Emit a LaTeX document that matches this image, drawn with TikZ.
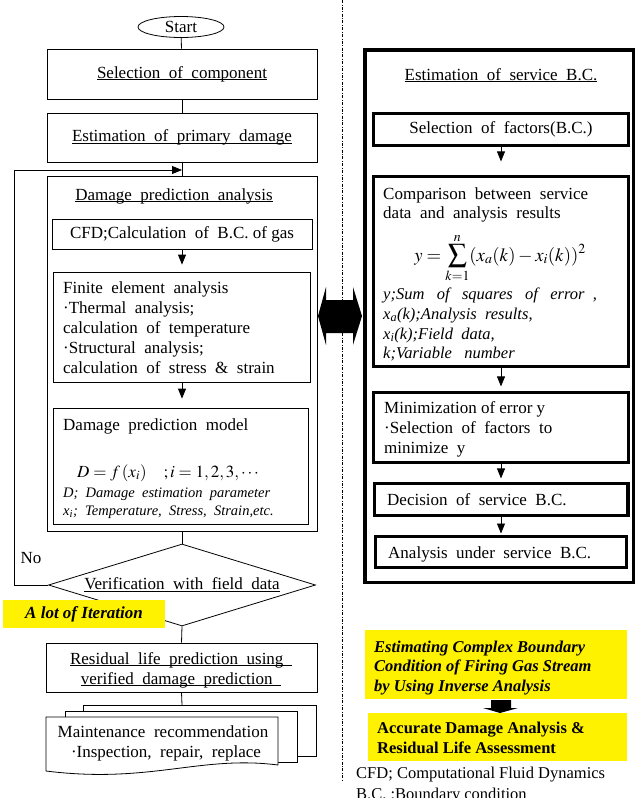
\documentclass[tikz,border=0pt]{standalone}
\usepackage{mathptmx}
\usepackage[no-math]{fontspec}
\setmainfont{Liberation Serif}
\usetikzlibrary{arrows.meta,shapes.geometric}
\newsavebox\ulbx
\newcommand\uln[1]{\sbox\ulbx{#1}\rlap{\rule[-2pt]{\wd\ulbx}{0.8pt}}\usebox\ulbx}
\newcommand\ws{\hspace{0.5em}}
\newcommand\wws{\hspace{0.75em}}
\tikzset{
 fm/.style={font=\fontsize{17}{20}\selectfont},
 bx/.style={draw, line width=0.8pt, inner sep=0pt, fm},
 tb/.style={draw, line width=3.2pt, inner sep=0pt, fm},
 txt/.style={inner sep=0pt, anchor=base west, fm},
 txtc/.style={inner sep=0pt, anchor=base, fm},
 itl/.style={inner sep=0pt, anchor=base west, font=\fontsize{16.5}{20}\selectfont\itshape},
 itls/.style={inner sep=0pt, anchor=base west, font=\fontsize{14.5}{18}\selectfont\itshape},
 yb/.style={inner sep=0pt, anchor=base west, font=\fontsize{16.5}{20}\selectfont\bfseries\itshape},
 ybu/.style={inner sep=0pt, anchor=base west, font=\fontsize{16.5}{20}\selectfont\bfseries},
 conn/.style={line width=0.8pt},
 arr/.style={line width=0.8pt, -{Triangle[length=10pt,width=8pt]}},
 doc/.style={draw, line width=0.8pt, fill=white},
}
\begin{document}
\begin{tikzpicture}[x=1pt,y=-1pt]
\useasboundingbox (0,0) rectangle (636,798);
% separator
\draw[line width=0.6pt, dash pattern=on 3pt off 1.5pt on 0.8pt off 1.5pt] (342,0) -- (342,780);

% ---------- left column ----------
\node[draw, ellipse, line width=0.8pt, minimum width=86, minimum height=21, inner sep=0pt, fm] (start) at (181,27) {Start};
\node[bx, minimum width=270, minimum height=50] (sel) at (182,74) {\uln{Selection\ws of\ws component}};
\node[bx, minimum width=270, minimum height=49] (est) at (182,137.5) {\uln{Estimation\ws of\ws primary\ws damage}};
\node[bx, minimum width=270, minimum height=355] (dpa) at (182,353.5) {};
\node[txtc] (dpat) at (174,200) {\uln{Damage\ws prediction\ws analysis}};
\node[bx, minimum width=260, minimum height=30] (cfd) at (182,234) {CFD;Calculation\ws of\ws B.C. of gas};
\node[bx, minimum width=257, minimum height=110] (fe) at (182,327) {};
\node[txt] (fe1) at (63,293) {Finite\ws element\ws analysis};
\node[txt] (fe2) at (63,313) {·Thermal\ws analysis;};
\node[txt] (fe3) at (63,333) {calculation\ws of\ws temperature};
\node[txt] (fe4) at (63,353) {·Structural\ws analysis;};
\node[txt] (fe5) at (63,373) {calculation\ws of\ws stress\ws \&\ws strain};
\node[bx, minimum width=255, minimum height=116] (dpm) at (181,466) {};
\node[txt] (dpm1) at (63,430) {Damage\ws prediction\ws model};
\node[txt] (dpm2) at (77,477) {$D=f\,(x_i)\quad;i=1,2,3,\cdots$};
\node[itls] (dpm3) at (63,497) {D;\ws Damage\ws estimation\ws parameter};
\node[itls] (dpm4) at (63,515) {x\textsubscript{i};\ws Temperature,\ws Stress,\ws Strain,etc.};

\node[draw, diamond, shape aspect=3.26, line width=0.8pt, minimum width=267, minimum height=82, inner sep=0pt, fm] (ver) at (182,585) {\uln{Verification\ws with\ws field\ws data}};
\node[fm, inner sep=0pt] (no) at (31,558) {No};

\draw[conn] (start) -- (sel);
\draw[conn] (sel) -- (est);
\draw[conn] (est) -- (dpa);
\draw[arr, shorten >=7pt] (cfd) -- (fe);
\draw[arr, shorten >=9pt] (fe.south) -- (fe.south |- dpm.north);
\draw[conn] (dpa.south) -- (ver.north);
\coordinate (lpa) at (14,585);
\coordinate (lpb) at (14,170);
\coordinate (lpc) at (182,170);
\draw[arr] (ver.west) -- (lpa) -- (lpb) -- (lpc);

\node[fill=yellow, minimum width=162, minimum height=28, inner sep=0pt, font=\fontsize{17}{20}\selectfont\bfseries\itshape] (iter) at (84,614) {A lot of Iteration};

\node[bx, minimum width=271, minimum height=49] (res) at (181.5,667.5) {};
\node[txtc] (res1) at (181,664) {\uln{Residual\ws life\ws prediction\ws using\ws}};
\node[txtc] (res2) at (181,684) {\uln{verified\ws damage\ws prediction\ws}};
\draw[conn] (ver.south) -- (res.north);

% multi-document
\draw[doc] (83,711) -- (83,705) -- (316,705) -- (316,756) -- (297,756);
\draw[doc] (65,717) -- (65,711) -- (297,711) -- (297,762) -- (278,762);
\draw[doc] (46,717) -- (278,717) -- (278,765) .. controls (200,755) and (150,784) .. (46,771) -- cycle;
\coordinate (dtop) at (182,705);
\draw[conn] (res.south) -- (dtop);
\node[txtc] (mt1) at (163,737) {Maintenance\ws recommendation};
\node[txtc] (mt2) at (166,757) {·Inspection,\ws repair,\ws replace};

% ---------- right column ----------
\node[draw, line width=3.5pt, minimum width=268.5, minimum height=532.5, inner sep=0pt] (svc) at (499,316) {};
\node[txtc] (svct) at (501,80) {\uln{Estimation\ws of\ws service\ws B.C.}};
\node[tb, minimum width=254.8, minimum height=31.8] (fac) at (501,129.5) {Selection\ws of\ws factors(B.C.)};
\node[tb, minimum width=254.8, minimum height=189.8] (cmp) at (501,271.5) {};
\node[txt] (cmp1) at (383,199) {Comparison\ws between\ws service};
\node[txt] (cmp2) at (383,218) {data\ws and\ws analysis\ws results};
\node[inner sep=0pt, anchor=base, font=\fontsize{18.7}{22}\selectfont] (fml) at (500,261) {$\displaystyle y=\sum_{k=1}^{n}(x_a(k)-x_i(k))^2$};
\node[itl] (cmp3) at (383,299) {y;Sum\wws of\wws squares\wws of\wws error\ws,};
\node[itl] (cmp4) at (383,319) {x\textsubscript{a}(k);Analysis\ws results,};
\node[itl] (cmp5) at (383,339) {x\textsubscript{i}(k);Field\ws data,};
\node[itl] (cmp6) at (383,358) {k;Variable\wws number};
\node[tb, minimum width=254.8, minimum height=69.8] (mne) at (501,427.5) {};
\node[txt] (mne1) at (384,413) {Minimization of error y};
\node[txt] (mne2) at (384,433) {·Selection\ws of\ws factors\ws to};
\node[txt] (mne3) at (384,453) {minimize\ws y};
\node[tb, minimum width=253.8, minimum height=31.8] (dec) at (501,499.5) {};
\node[txt] (dect) at (387,505) {Decision\ws of\ws service\ws B.C.};
\node[tb, minimum width=250.8, minimum height=30.8] (ana) at (501,552) {};
\node[txt] (anat) at (388,558) {Analysis\ws under\ws service\ws B.C.};

\draw[arr, shorten >=13.6pt] (fac) -- (cmp);
\draw[arr, shorten >=4.6pt] (cmp) -- (mne);
\draw[arr, shorten >=3.6pt] (mne) -- (dec);
\draw[arr, shorten >=1.5pt] (dec) -- (ana);

% big double arrow
\fill (318,316) -- (326,287) -- (326,300) -- (353,300) -- (353,287) -- (362,316) -- (353,345) -- (353,333) -- (326,333) -- (326,345) -- cycle;

% yellow notes
\node[fill=yellow, minimum width=262, minimum height=69, inner sep=0pt] (y1) at (496,664.5) {};
\node[yb] (y1a) at (374,652) {Estimating Complex Boundary};
\node[yb] (y1b) at (374,671) {Condition of Firing Gas Stream};
\node[yb] (y1c) at (374,691) {by Using Inverse Analysis};
\node[fill=yellow, minimum width=259, minimum height=48, inner sep=0pt] (y2) at (497.5,737) {};
\node[ybu] (y2a) at (377,733) {Accurate Damage Analysis \&};
\node[ybu] (y2b) at (377,753) {Residual Life Assessment};
\fill (491,700) -- (511,700) -- (511,708) -- (518,708) -- (500,713) -- (483,708) -- (491,708) -- cycle;

\node[inner sep=0pt, anchor=base west, font=\fontsize{16.5}{20}\selectfont] (ft1) at (356,778) {CFD; Computational Fluid Dynamics};
\node[inner sep=0pt, anchor=base west, font=\fontsize{16.5}{20}\selectfont] (ft2) at (356,799) {B.C. ;Boundary condition};
\end{tikzpicture}
\end{document}
